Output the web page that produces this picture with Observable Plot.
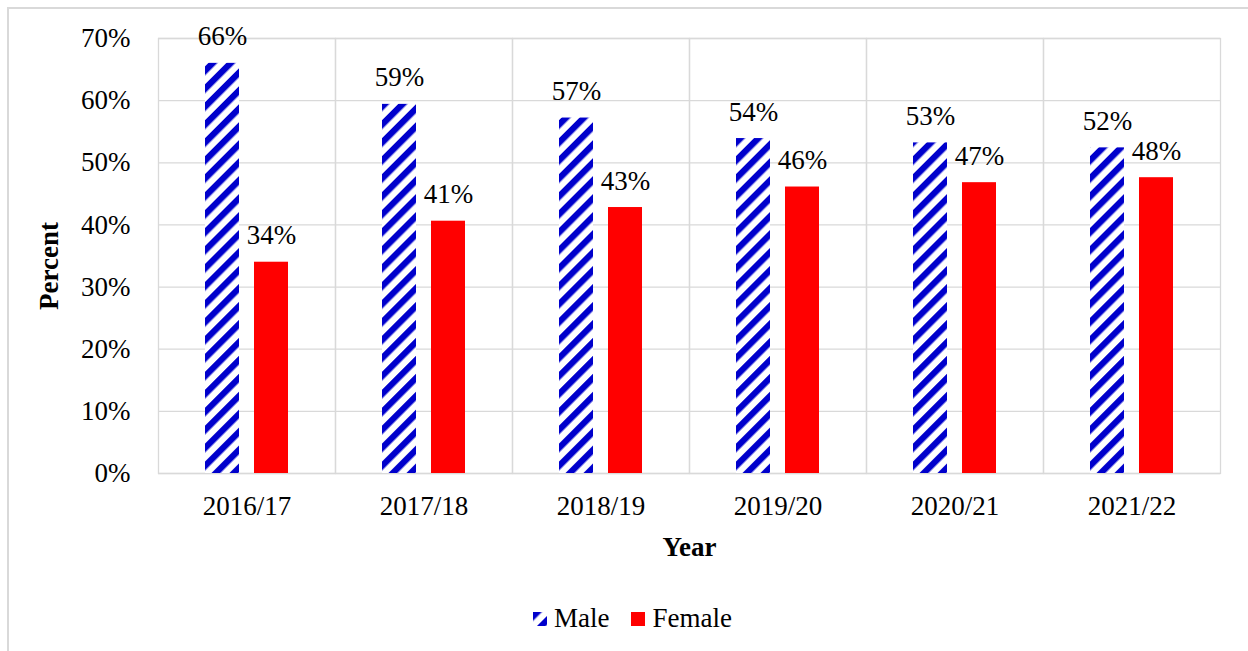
<!DOCTYPE html>
<html>
<head>
<meta charset="utf-8">
<script src="https://cdn.jsdelivr.net/npm/d3@7"></script>
<script src="https://cdn.jsdelivr.net/npm/@observablehq/plot@0.6"></script>
<style>
  html, body { margin: 0; padding: 0; background: white; }
  #wrap { position: relative; width: 1248px; height: 651px; overflow: hidden; font-family: 'Liberation Serif', serif; }
  #wrap svg text, #wrap svg { font-family: 'Liberation Serif', serif !important; }
  #border { position: absolute; left: 7px; top: 7px; width: 1400px; height: 800px; border-left: 2px solid #d9d9d9; border-top: 2px solid #d9d9d9; pointer-events: none; }
  #legend { position: absolute; left: 533px; top: 603px; display: flex; align-items: center; font-size: 27px; color: #000; font-family: 'Liberation Serif', serif; }
  .item { display: flex; align-items: center; margin-right: 22px; }
  .sw { width: 14px; height: 14px; margin-right: 7px; }
  [aria-label="fx-axis label"], [aria-label="y-axis label"] { font-weight: bold; }
</style>
</head>
<body>
<div id="wrap">
  <div id="chart"></div>
  <div id="legend">
    <div class="item"><svg class="sw" width="14" height="14"><defs><pattern id="hatchL" patternUnits="userSpaceOnUse" width="12.7" height="12.7" patternTransform="rotate(45)"><rect width="12.7" height="12.7" fill="white"/><rect width="6.3" height="12.7" fill="#0000cc"/></pattern></defs><rect width="14" height="14" fill="url(#hatchL)"/></svg><span>Male</span></div>
    <div class="item"><svg class="sw" width="14" height="14"><rect width="14" height="14" fill="#ff0000"/></svg><span>Female</span></div>
  </div>
  <div id="border"></div>
</div>
<script>
const years = ["2016/17", "2017/18", "2018/19", "2019/20", "2020/21", "2021/22"];
const male = [66.0, 59.4, 57.2, 53.9, 53.2, 52.4];
const female = [34.0, 40.6, 42.8, 46.1, 46.8, 47.6];
const yTicks = [0, 10, 20, 30, 40, 50, 60, 70];

const data = [];
years.forEach((y, i) => {
  data.push({year: y, sex: "Male", value: male[i]});
  data.push({year: y, sex: "Female", value: female[i]});
});
const maleData = data.filter(d => d.sex === "Male");
const femaleData = data.filter(d => d.sex === "Female");
const fmt = d => Math.round(d.value) + "%";
const FF = "Liberation Serif";

const plot = Plot.plot({
  width: 1248,
  height: 590,
  marginLeft: 156,
  marginRight: 27,
  marginTop: 38,
  marginBottom: 117,
  style: {fontFamily: FF, fontSize: "27px", color: "#000", background: "transparent"},
  fx: {domain: years, padding: 0},
  x: {domain: ["Male", "Female"], paddingInner: 0.3, paddingOuter: 0.925, axis: null},
  y: {domain: [0, 70]},
  marks: [
    Plot.gridY(yTicks, {stroke: "#d9d9d9", strokeOpacity: 1, strokeWidth: 1.3}),
    Plot.frame({stroke: "#d9d9d9", strokeWidth: 1.3}),
    Plot.barY(maleData, {fx: "year", x: "sex", y: "value", fill: "url(#hatch)"}),
    Plot.barY(femaleData, {fx: "year", x: "sex", y: "value", fill: "#ff0000"}),
    Plot.text(data, {fx: "year", x: "sex", y: "value", text: fmt, lineAnchor: "bottom", dy: -18, fontSize: 27, fontFamily: FF, fill: "#000"}),
    Plot.axisY({ticks: yTicks, tickFormat: d => d + "%", tickSize: 0, tickPadding: 28, fontSize: 27, fontFamily: FF, label: "Percent", labelArrow: "none", labelAnchor: "center", labelOffset: 120}),
    Plot.axisFx({anchor: "bottom", tickSize: 0, tickPadding: 22, fontSize: 27, fontFamily: FF, label: "Year", labelArrow: "none", labelAnchor: "center", labelOffset: 82})
  ]
});

d3.select(plot).insert("defs", ":first-child").html(
  '<pattern id="hatch" patternUnits="userSpaceOnUse" width="12.7" height="12.7" patternTransform="rotate(45)">' +
  '<rect width="12.7" height="12.7" fill="white"/><rect width="6.3" height="12.7" fill="#0000cc"/></pattern>'
);
d3.select(plot).selectAll('[aria-label="y-axis label"] text, [aria-label="fx-axis label"] text').each(function() {
  this.textContent = this.textContent.replace(/[\s]*[→↑←↓][\s]*/g, "");
});
const yl = d3.select(plot).select('[aria-label="y-axis label"]');
yl.attr("transform", "translate(0,10) " + (yl.attr("transform") || ""));

document.getElementById("chart").appendChild(plot);
</script>
</body>
</html>
